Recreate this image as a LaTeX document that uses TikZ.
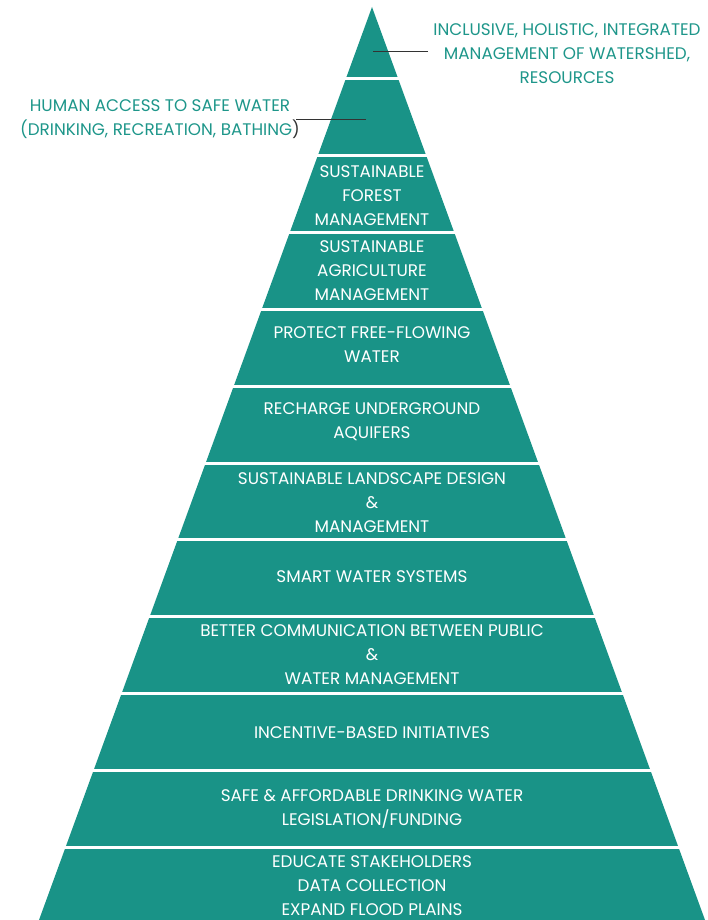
\documentclass[tikz,border=0pt]{standalone}
\usepackage{fontspec}
\setmainfont{Poppins}
\definecolor{pyrteal}{RGB}{25,147,135}
\definecolor{lbltxt}{RGB}{30,150,138}
\newcommand\bandfont{\fontsize{16.8}{24}\selectfont}
\begin{document}
\begin{tikzpicture}[x=1pt,y=-1pt,
  bandtxt/.style={text=white,align=center,font=\bandfont,inner sep=0pt},
  outtxt/.style={text=lbltxt,align=center,font=\bandfont,inner sep=0pt},
  sepline/.style={white,line width=3pt},
  leader/.style={black!80,line width=0.8pt}]
\useasboundingbox (0,0) rectangle (707,920);
\coordinate (apex) at (372,7);
\coordinate (bl) at (39,920);
\coordinate (br) at (705,920);
\fill[pyrteal] (apex) -- (br) -- (bl) -- cycle;
\foreach \y in {79,155.8,232.6,309.4,386.2,463,539.8,616.6,693.4,770.2,847}
  \draw[sepline] (0,\y) -- (707,\y);
% outside labels
\node[outtxt] (topl) at (567,54) {INCLUSIVE, HOLISTIC, INTEGRATED\\MANAGEMENT OF WATERSHED,\\RESOURCES};
\node[outtxt] (leftl) at (160,119) {HUMAN ACCESS TO SAFE WATER\\(DRINKING, RECREATION, BATHING\textcolor{black!80}{)}};
\coordinate (topin) at (373,51);
\coordinate (topout) at (428,51);
\coordinate (leftin) at (366,119);
\coordinate (leftout) at (296,119);
\draw[leader] (topout) -- (topin);
\draw[leader] (leftout) -- (leftin);
% band texts
\node[bandtxt] (b3) at (372,196) {SUSTAINABLE\\FOREST\\MANAGEMENT};
\node[bandtxt] (b4) at (372,271) {SUSTAINABLE\\AGRICULTURE\\MANAGEMENT};
\node[bandtxt] (b5) at (372,345) {PROTECT FREE-FLOWING\\WATER};
\node[bandtxt] (b6) at (372,422) {RECHARGE UNDERGROUND\\AQUIFERS};
\node[bandtxt] (b7) at (372,503) {SUSTAINABLE LANDSCAPE DESIGN\\\&\\MANAGEMENT};
\node[bandtxt] (b8) at (372,577) {SMART WATER SYSTEMS};
\node[bandtxt] (b9) at (372,655) {BETTER COMMUNICATION BETWEEN PUBLIC\\\&\\WATER MANAGEMENT};
\node[bandtxt] (b10) at (372,733) {INCENTIVE-BASED INITIATIVES};
\node[bandtxt] (b11) at (372,809) {SAFE \& AFFORDABLE DRINKING WATER\\LEGISLATION/FUNDING};
\node[bandtxt] (b12) at (372,886) {EDUCATE STAKEHOLDERS\\DATA COLLECTION\\EXPAND FLOOD PLAINS};
\end{tikzpicture}
\end{document}
